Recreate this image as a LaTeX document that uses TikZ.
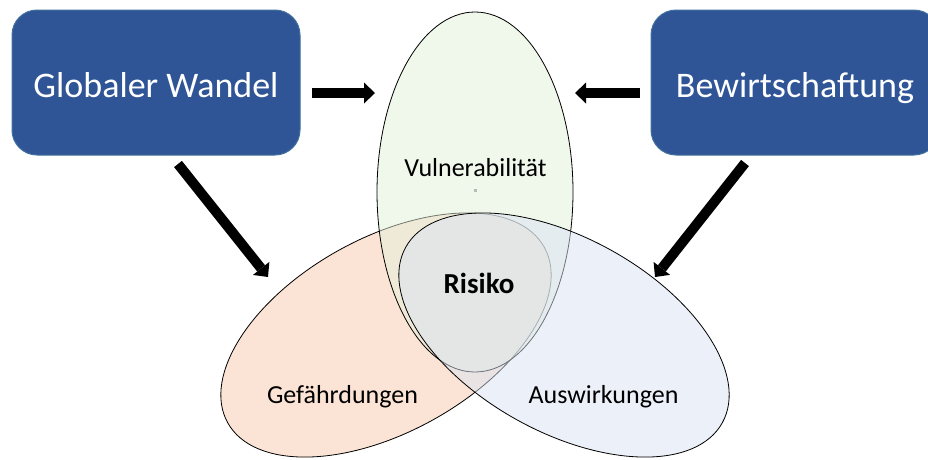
\documentclass[tikz,border=0pt]{standalone}
\usepackage{fontspec}
\setmainfont{Carlito}
\usetikzlibrary{arrows.meta}
\definecolor{boxblue}{HTML}{2F5597}
\definecolor{boxedge}{HTML}{41719C}
\definecolor{vgreen}{HTML}{E2F0D9}
\definecolor{vorange}{HTML}{F8CBAD}
\definecolor{vblue}{HTML}{DAE3F3}
\begin{document}
\begin{tikzpicture}[x=1pt,y=-1pt,
  bluebox/.style={draw=boxedge, line width=1pt, fill=boxblue, rounded corners=25pt,
    minimum width=288pt, minimum height=145pt, text=white,
    font=\fontsize{36}{40}\selectfont, text height=29pt, text depth=0pt, inner sep=0pt},
  venn/.style={draw=black, line width=0.8pt, fill opacity=0.5},
  lbl/.style={font=\fontsize{26}{30}\selectfont, anchor=base, inner sep=0pt},
  fatarrow/.style={line width=10pt, -{Triangle[length=11pt,width=21pt,line width=0pt]}}
]
\useasboundingbox (0,0) rectangle (928,459);
\clip (0,0) rectangle (928,459);
\fill[white] (0,0) rectangle (928,459);

% Venn shapes
\draw[venn, fill=vorange, rotate around={29:(386,335)}] (386,335) ellipse [x radius=181, y radius=97];
\draw[venn, fill=vgreen] (475,192) ellipse [x radius=98, y radius=180];
\draw[venn, fill=vblue, rotate around={-29:(564,335)}] (564,335) ellipse [x radius=181, y radius=97];
\fill[gray!55] (473.5,188.5) rectangle (476.5,191.5);

% labels
\node[lbl] (vul) at (475.5,176) {Vulnerabilität};
\node[lbl] (gef) at (342.5,403) {Gefährdungen};
\node[lbl] (ausw) at (603.5,403) {Auswirkungen};
\node[lbl, font=\fontsize{29}{33}\selectfont\bfseries] (ris) at (479,293) {Risiko};

% boxes
\node[bluebox] (gw) at (156,82.5) {Globaler Wandel};
\node[bluebox] (bw) at (795,82.5) {Bewirtschaftung};

% arrows
\coordinate (a1s) at (312,93);  \coordinate (a1e) at (375,93);
\coordinate (a2s) at (640,93);  \coordinate (a2e) at (575,93);
\coordinate (a3s) at (178,164); \coordinate (a3e) at (268,277);
\coordinate (a4s) at (745,163); \coordinate (a4e) at (655,277);
\draw[fatarrow] (a1s) -- (a1e);
\draw[fatarrow] (a2s) -- (a2e);
\draw[fatarrow] (a3s) -- (a3e);
\draw[fatarrow] (a4s) -- (a4e);
\end{tikzpicture}
\end{document}
